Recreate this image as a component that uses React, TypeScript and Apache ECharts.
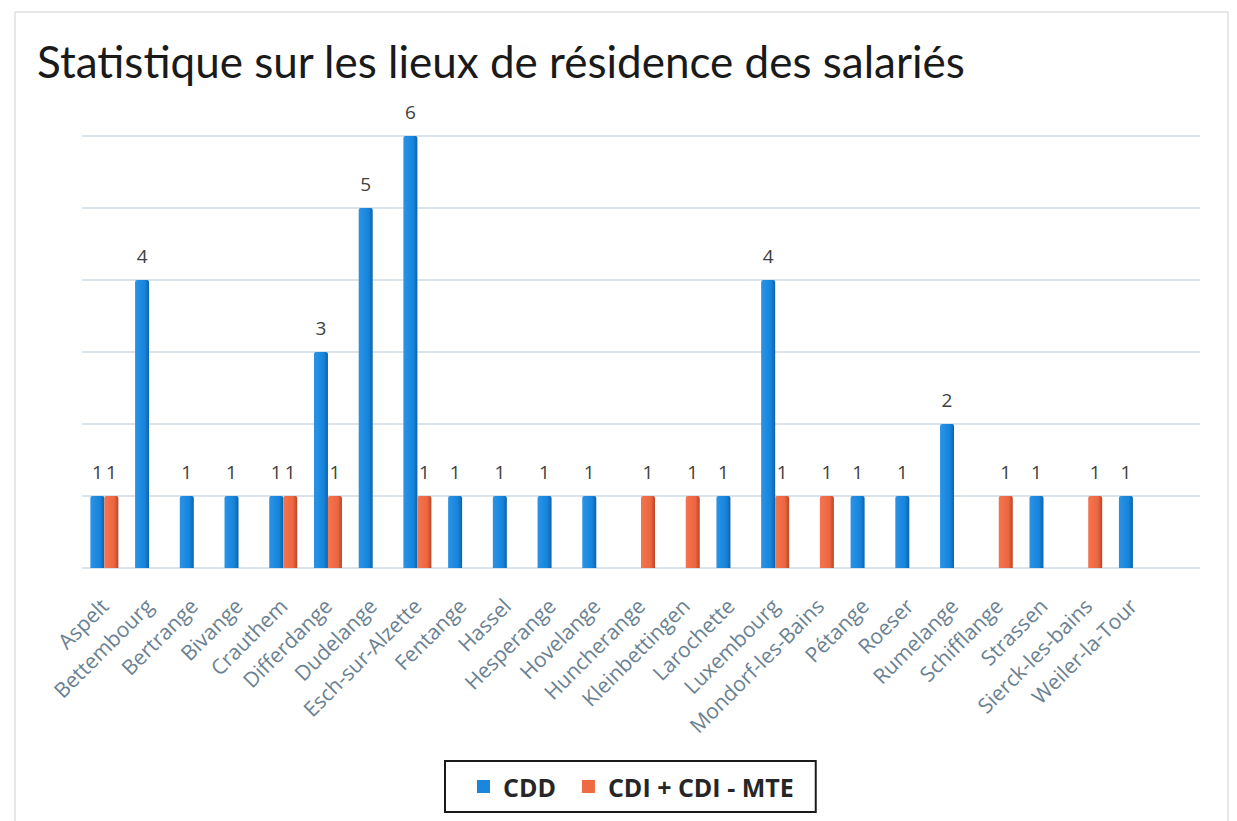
import React, { useEffect, useRef } from "react";
import * as echarts from "echarts";

const categories = [
  "Aspelt", "Bettembourg", "Bertrange", "Bivange", "Crauthem", "Differdange",
  "Dudelange", "Esch-sur-Alzette", "Fentange", "Hassel", "Hesperange", "Hovelange",
  "Huncherange", "Kleinbettingen", "Larochette", "Luxembourg", "Mondorf-les-Bains",
  "Pétange", "Roeser", "Rumelange", "Schifflange", "Strassen", "Sierck-les-bains",
  "Weiler-la-Tour",
];
const cdd = [1, 4, 1, 1, 1, 3, 5, 6, 1, 1, 1, 1, null, null, 1, 4, null, 1, 1, 2, null, 1, null, 1];
const cdi = [1, null, null, null, 1, 1, null, 1, null, null, null, null, 1, 1, null, 1, 1, null, null, null, 1, null, 1, null];
const seriesNames = ["CDD", "CDI + CDI - MTE"];
const title = "Statistique sur les lieux de résidence des salariés";

export default function App() {
  const ref = useRef<HTMLDivElement>(null);
  useEffect(() => {
    const chart = echarts.init(ref.current!, null, { renderer: "svg" });
    const blue = new echarts.graphic.LinearGradient(0, 0, 1, 0, [
      { offset: 0, color: "#2a93e6" },
      { offset: 0.7, color: "#1684db" },
      { offset: 1, color: "#0f62a8" },
    ]);
    const orange = new echarts.graphic.LinearGradient(0, 0, 1, 0, [
      { offset: 0, color: "#f47550" },
      { offset: 0.7, color: "#ec6640" },
      { offset: 1, color: "#b84526" },
    ]);
    const label = {
      show: true,
      position: "top" as const,
      distance: 15,
      color: "#404040",
      fontSize: 19,
      fontFamily: "Open Sans",
    };
    chart.setOption({
      animation: false,
      backgroundColor: "#ffffff",
      title: {
        text: title,
        left: 32,
        top: 34,
        textStyle: { fontFamily: "Lato", fontSize: 44, fontWeight: "normal", color: "#1a1a1a" },
      },
      graphic: [
        {
          type: "rect",
          shape: { x: 15, y: 12, width: 1213, height: 820 },
          style: { fill: "none", stroke: "#d0d0d0", lineWidth: 1 },
          silent: true,
        },
      ],
      legend: {
        bottom: 9,
        left: 445,
        itemWidth: 13,
        itemHeight: 13,
        itemGap: 26,
        padding: [13, 22, 13, 32],
        borderColor: "#1a1a1a",
        borderWidth: 2,
        textStyle: { fontFamily: "Open Sans", fontWeight: "bold", fontSize: 25, color: "#262626", padding: [0, 0, 0, 8] },
        data: [
          { name: seriesNames[0], icon: "rect", itemStyle: { color: "#1a86dc" } },
          { name: seriesNames[1], icon: "rect", itemStyle: { color: "#ee6a42" } },
        ],
      },
      grid: { left: 82, right: 37, top: 136, bottom: 253, containLabel: false },
      xAxis: {
        type: "category",
        data: categories,
        max: 24,
        axisLine: { show: false },
        axisTick: { show: false },
        axisLabel: {
          rotate: 45,
          interval: 0,
          color: "#6a8192",
          fontSize: 21,
          fontFamily: "Open Sans",
          margin: 34,
        },
      },
      yAxis: {
        type: "value",
        min: 0,
        max: 6,
        interval: 1,
        axisLabel: { show: false },
        axisLine: { show: false },
        axisTick: { show: false },
        splitLine: { lineStyle: { color: "#dbe3ec", width: 2 } },
      },
      series: [
        {
          name: seriesNames[0],
          type: "bar",
          data: cdd,
          barWidth: 14,
          barGap: "0%",
          itemStyle: { color: blue, borderRadius: [2, 2, 0, 0] },
          label,
        },
        {
          name: seriesNames[1],
          type: "bar",
          data: cdi,
          barWidth: 14,
          barGap: "0%",
          itemStyle: { color: orange, borderRadius: [2, 2, 0, 0] },
          label,
        },
      ],
    });
    return () => chart.dispose();
  }, []);
  return (
    <div
      ref={ref}
      style={{ position: "fixed", left: 0, top: 0, width: 1237, height: 821 }}
    />
  );
}
